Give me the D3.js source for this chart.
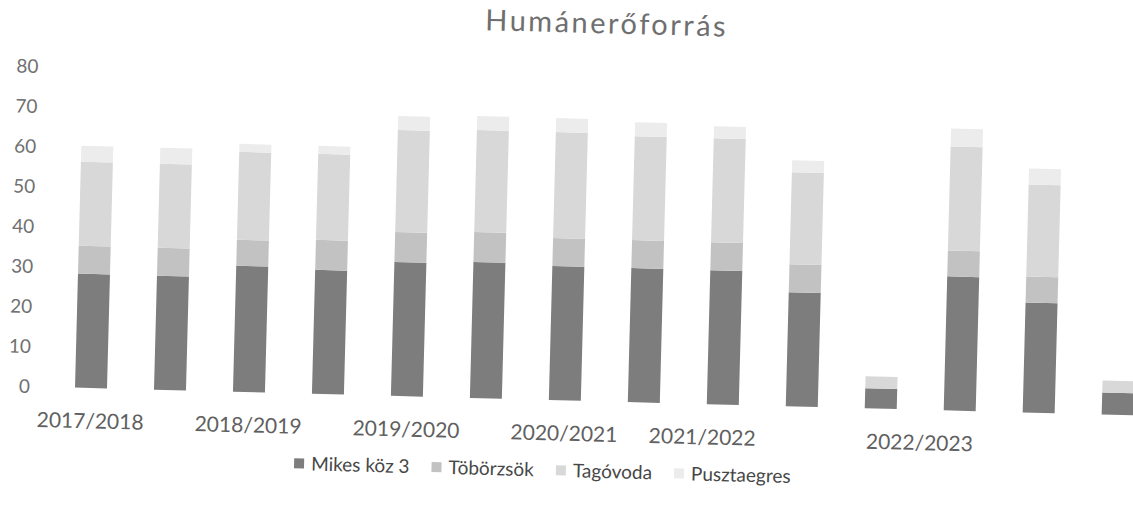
<!DOCTYPE html>
<html>
<head>
<meta charset="utf-8">
<script src="https://cdn.jsdelivr.net/npm/d3@7"></script>
<style>
  html, body { margin: 0; padding: 0; background: #fff; }
  svg { display: block; font-family: Lato, "Open Sans", sans-serif; }
</style>
</head>
<body>
<svg width="1133" height="505"></svg>
<script>
// values (one entry per bar, left to right)
const seriesNames = ["Mikes köz 3", "Töbörzsök", "Tagóvoda", "Pusztaegres"];
const mikes       = [28.5, 28.5, 31.5, 31, 33.5, 34, 33.5, 33.5, 33.5, 28.5, 5, 33.5, 27.5, 5.5];
const toborzsok   = [7, 7, 6.5, 7.5, 7.5, 7.5, 7, 7, 7, 7, 0, 6.5, 6.5, 0];
const tagovoda    = [21, 21, 22, 21.5, 25.5, 25.5, 26.5, 26, 26, 23, 3, 26, 23, 3];
const pusztaegres = [4, 4, 2, 2, 3.5, 3.5, 3.5, 3.5, 3, 3, 0, 4.5, 4, 0];
const yTicks = [0, 10, 20, 30, 40, 50, 60, 70, 80];
// category labels and the (bar index) spot where each one sits
const yearLabels = ["2017/2018", "2018/2019", "2019/2020", "2020/2021", "2021/2022", "2022/2023"];
const yearLabelAt = [0, 2, 4, 6, 7.75, 10.5];

const colors = ["#7d7d7d", "#c2c2c2", "#d8d8d8", "#ececec"];
const TILT = 1.5; // the scan is a little crooked
const BASE_X = 91, BASE_Y = 388;

const rows = mikes.map((m, i) => ({
  i,
  "Mikes köz 3": m,
  "Töbörzsök": toborzsok[i],
  "Tagóvoda": tagovoda[i],
  "Pusztaegres": pusztaegres[i]
}));

const stacked = d3.stack().keys(seriesNames)(rows);

const x = d3.scaleBand()
  .domain(rows.map(d => d.i))
  .range([51.5, 1157.5])
  .paddingInner(0.595)
  .paddingOuter(0.2975);

const y = d3.scaleLinear().domain([0, 80]).range([BASE_Y, 68]);

const svg = d3.select("svg");
const g = svg.append("g")
  .attr("transform", `rotate(${TILT},${BASE_X},${BASE_Y})`);

// title
g.append("text")
  .attr("x", 597)
  .attr("y", 20)
  .attr("text-anchor", "middle")
  .attr("font-size", 29)
  .attr("letter-spacing", "2.5px")
  .attr("fill", "#6f6f6f")
  .text("Humánerőforrás");

// y axis, labels only
const yAxis = g.append("g")
  .attr("transform", "translate(38,0)")
  .call(d3.axisLeft(y).tickValues(yTicks).tickSize(0).tickPadding(8));
yAxis.select(".domain").remove();
yAxis.selectAll("text")
  .attr("font-family", "Lato, sans-serif")
  .attr("font-size", 19)
  .attr("fill", "#707070");

// bars
g.selectAll(".series")
  .data(stacked)
  .enter()
  .append("g")
  .attr("class", "series")
  .attr("fill", (d, k) => colors[k])
  .selectAll("rect")
  .data(d => d.filter(p => p[1] > p[0]))
  .enter()
  .append("rect")
  .attr("x", d => x(d.data.i))
  .attr("width", x.bandwidth())
  .attr("y", d => y(d[1]))
  .attr("height", d => y(d[0]) - y(d[1]));

// category labels
const xAt = idx => x(0) + idx * x.step() + x.bandwidth() / 2;
g.selectAll(".year")
  .data(yearLabels)
  .enter()
  .append("text")
  .attr("class", "year")
  .attr("x", (d, k) => xAt(yearLabelAt[k]))
  .attr("y", y(0) + 33)
  .attr("dy", "0.35em")
  .attr("text-anchor", "middle")
  .attr("font-size", 21)
  .attr("fill", "#606060")
  .text(d => d);

// legend
const legend = g.append("g").attr("transform", "translate(296,458)");
let lx = 0;
seriesNames.forEach((name, k) => {
  const item = legend.append("g").attr("transform", `translate(${lx},0)`);
  item.append("rect")
    .attr("x", 0).attr("y", -5)
    .attr("width", 10).attr("height", 10)
    .attr("fill", colors[k]);
  const t = item.append("text")
    .attr("x", 17)
    .attr("dy", "0.35em")
    .attr("font-size", 19)
    .attr("fill", "#474747")
    .text(name);
  lx += 17 + t.node().getComputedTextLength() + 22;
});
</script>
</body>
</html>
